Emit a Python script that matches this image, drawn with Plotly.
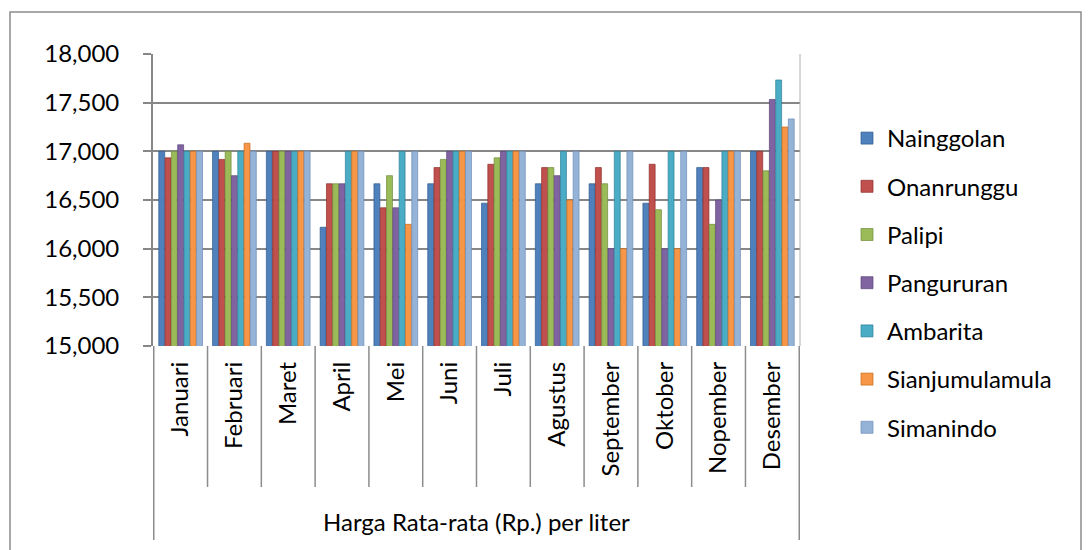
import plotly.graph_objects as go

months = ["Januari", "Februari", "Maret", "April", "Mei", "Juni", "Juli",
          "Agustus", "September", "Oktober", "Nopember", "Desember"]

nainggolan   = [17000, 17000, 17000, 16220, 16667, 16667, 16467, 16667, 16667, 16467, 16833, 17000]
onanrunggu   = [16933, 16917, 17000, 16667, 16420, 16833, 16867, 16833, 16833, 16867, 16833, 17000]
palipi       = [17000, 17000, 17000, 16667, 16750, 16917, 16933, 16833, 16667, 16400, 16250, 16800]
pangururan   = [17067, 16750, 17000, 16667, 16420, 17000, 17000, 16750, 16000, 16000, 16500, 17533]
ambarita     = [17000, 17000, 17000, 17000, 17000, 17000, 17000, 17000, 17000, 17000, 17000, 17733]
sianjumulamula = [17000, 17083, 17000, 17000, 16250, 17000, 17000, 16500, 16000, 16000, 17000, 17250]
simanindo    = [17000, 17000, 17000, 17000, 17000, 17000, 17000, 17000, 17000, 17000, 17000, 17333]

series_names = ["Nainggolan", "Onanrunggu", "Palipi", "Pangururan",
                "Ambarita", "Sianjumulamula", "Simanindo"]
series_values = [nainggolan, onanrunggu, palipi, pangururan,
                 ambarita, sianjumulamula, simanindo]
colors = ["#4F81BD", "#C0504D", "#9BBB59", "#8064A2", "#4BACC6", "#F79646", "#95B3D7"]
edges = ["#2F5A8F", "#8C2D2A", "#6E8A38", "#5A4379", "#2E8199", "#C46B1E", "#6C8DB8"]

x_title = "Harga Rata-rata (Rp.) per liter"

FONT = "Lato"
FS = 24
OFF = 8  # page body margin
fig = go.Figure()
for i, (name, vals) in enumerate(zip(series_names, series_values)):
    fig.add_trace(go.Bar(
        x=months, y=vals, name=name, legendgroup=name,
        marker=dict(color=colors[i], line=dict(color=edges[i], width=0.7)),
    ))

W, H = 1090 - OFF, 550 - OFF
L, R, T, B = 153 - OFF, 800 - OFF, 54 - OFF, 346 - OFF
pw = R - L
ph = B - T

def px_x(sx):
    return (sx - OFF - L) / pw

def px_y(sy):
    return (B - (sy - OFF)) / ph

fig.update_layout(
    width=W, height=H,
    margin=dict(l=L, r=W - R, t=T, b=H - B),
    barmode="group", bargap=0.18, bargroupgap=0.06,
    plot_bgcolor="white", paper_bgcolor="white",
    font=dict(family=FONT, size=FS, color="#000000"),
    showlegend=True,
    legend=dict(x=px_x(847), xanchor="left", y=px_y(116), yanchor="top",
                font=dict(family=FONT, size=FS), traceorder="grouped", tracegroupgap=14,
                bgcolor="rgba(0,0,0,0)", maxheight=500),
    xaxis=dict(type="category", tickangle=-90, showgrid=False, showline=False,
               ticks="", tickfont=dict(family=FONT, size=FS), ticklabelstandoff=10),
    yaxis=dict(range=[15000, 18000], dtick=500, tickformat=",d",
               showgrid=True, gridcolor="#878787", gridwidth=1.8,
               showline=True, linecolor="#878787", linewidth=1.8,
               ticks="outside", ticklen=8, tickcolor="#878787", tickwidth=1.5,
               tickfont=dict(family=FONT, size=FS), ticklabelstandoff=19,
               zeroline=False),
)

# category divider lines
for k in range(1, len(months)):
    fig.add_shape(type="line", xref="x", yref="paper", x0=k - 0.5, x1=k - 0.5,
                  y0=0, y1=px_y(487), line=dict(color="#8c8c8c", width=1.5))
for xv in (-0.5, len(months) - 0.5):
    fig.add_shape(type="line", xref="x", yref="paper", x0=xv, x1=xv,
                  y0=0, y1=px_y(540), line=dict(color="#8c8c8c", width=1.5))
# right wall edge
fig.add_shape(type="line", xref="paper", yref="paper", x0=1, x1=1, y0=0, y1=1,
              line=dict(color="#b0b0b0", width=1))

fig.add_annotation(text=x_title, xref="paper", yref="paper", x=0.5,
                   y=px_y(521), xanchor="center", yanchor="middle",
                   showarrow=False, font=dict(family=FONT, size=FS))

# chart outer border (bottom edge lies below the visible window)
fig.add_shape(type="rect", xref="paper", yref="paper",
              x0=px_x(10), x1=px_x(1081),
              y0=px_y(560), y1=px_y(12),
              line=dict(color="#8c8c8c", width=1.5), layer="below")

fig.write_html("out.html")
